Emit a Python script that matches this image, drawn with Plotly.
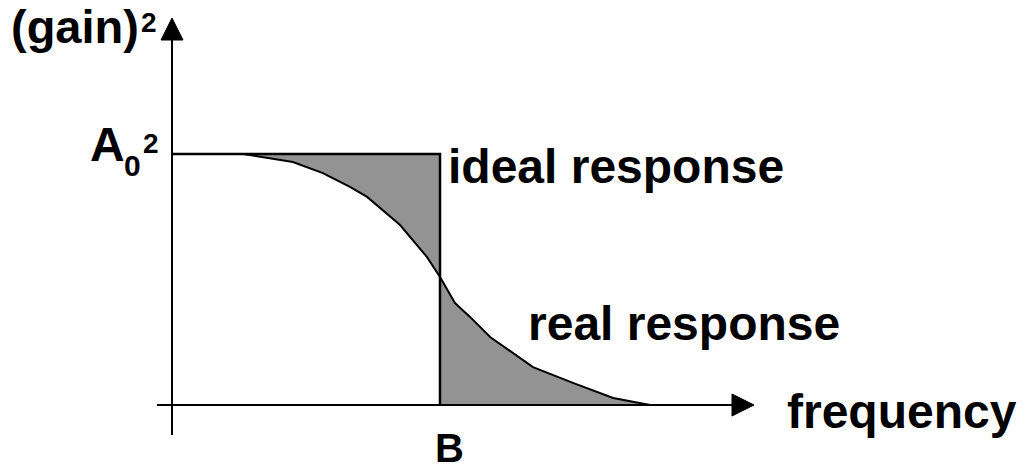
import plotly.graph_objects as go

# ---- data (normalized: frequency in units of B, gain^2 in units of A0^2) ----
freq_ideal = [0.0, 1.0, 1.0]
gain_ideal = [1.0, 1.0, 0.0]

freq_real = [0.0, 0.265, 0.451, 0.563, 0.664, 0.728, 0.851, 0.951, 1.0,
             1.056, 1.112, 1.187, 1.347, 1.496, 1.646, 1.772, 1.784]
gain_real = [1.0, 1.0, 0.968, 0.924, 0.869, 0.829, 0.717, 0.590, 0.510,
             0.406, 0.351, 0.271, 0.151, 0.088, 0.028, 0.004, 0.0]

labels = {"y": "(gain)", "x": "frequency", "B": "B", "A": "A",
          "ideal": "ideal response", "real": "real response"}

# ---- layout geometry ----
W, H = 1024, 471
X0, XB = 172, 440      # pixel of f=0 and f=1
Y0, YA = 405, 154      # pixel of g=0 and g=1
sx = XB - X0
sy = Y0 - YA
xr = [(0 - X0) / sx, (W - X0) / sx]
yr = [(Y0 - H) / sy, (Y0 - 0) / sy]

def fx(p):
    return (p - X0) / sx

def gy(p):
    return (Y0 - p) / sy

FILL = "#939393"
FONT = "Liberation Sans"

fig = go.Figure()

# shaded area: part below ideal, above real (f in 0..1)
i1 = [i for i, f in enumerate(freq_real) if f <= 1.0]
i2 = [i for i, f in enumerate(freq_real) if f >= 1.0]
poly1_x = [freq_real[i] for i in i1] + [freq_ideal[1], freq_ideal[0]]
poly1_y = [gain_real[i] for i in i1] + [gain_ideal[1], gain_ideal[0]]
poly2_x = [freq_ideal[2]] + [freq_real[i] for i in i2]
poly2_y = [gain_ideal[2]] + [gain_real[i] for i in i2]

for px_, py_ in [(poly1_x, poly1_y), (poly2_x, poly2_y)]:
    fig.add_trace(go.Scatter(x=px_, y=py_, fill="toself", fillcolor=FILL,
                             mode="none", hoverinfo="skip", showlegend=False))

fig.add_trace(go.Scatter(x=freq_real, y=gain_real, mode="lines",
                         line=dict(color="black", width=2), showlegend=False))
fig.add_trace(go.Scatter(x=freq_ideal, y=gain_ideal, mode="lines",
                         line=dict(color="black", width=2.5), showlegend=False))

# axes with arrows
shapes = [
    dict(type="line", xref="x", yref="y", x0=0, x1=0, y0=gy(435), y1=gy(38),
         line=dict(color="black", width=2)),
    dict(type="line", xref="x", yref="y", x0=fx(157), x1=fx(734), y0=0, y1=0,
         line=dict(color="black", width=2)),
    dict(type="path", xref="x", yref="y",
         path=f"M {fx(161)} {gy(40)} L {fx(183)} {gy(40)} L {fx(172)} {gy(18)} Z",
         fillcolor="black", line=dict(color="black", width=1)),
    dict(type="path", xref="x", yref="y",
         path=f"M {fx(732)} {gy(394)} L {fx(732)} {gy(416)} L {fx(754)} {gy(405)} Z",
         fillcolor="black", line=dict(color="black", width=1)),
]

def ann(text, xpix, baseline, size, xanchor="left"):
    # place so that the text baseline lands on the given pixel row
    center = baseline - 0.3465 * size
    return dict(text=text, x=xpix / W, y=1 - center / H, xref="paper", yref="paper",
                xanchor=xanchor, yanchor="middle", showarrow=False, borderpad=0,
                font=dict(family=FONT, size=size, color="black", weight="bold"))

annotations = [
    ann(labels["y"], 10, 43, 47),
    ann("2", 140, 32, 28),
    ann(labels["A"], 89, 161, 48),
    ann("0", 123, 176, 30),
    ann("2", 142, 153, 28),
    ann(labels["ideal"], 447, 183, 48),
    ann(labels["real"], 527, 340, 48),
    ann(labels["x"], 786, 428, 48),
    ann(labels["B"], 449, 462, 40, xanchor="center"),
]

fig.update_layout(
    width=W, height=H, margin=dict(l=0, r=0, t=0, b=0),
    paper_bgcolor="white", plot_bgcolor="white",
    xaxis=dict(range=xr, visible=False, fixedrange=True),
    yaxis=dict(range=yr, visible=False, fixedrange=True),
    shapes=shapes, annotations=annotations, showlegend=False,
)

fig.write_html("out.html", config={"displayModeBar": False},
               post_script="document.body.style.margin='0';document.body.style.overflow='hidden';")
